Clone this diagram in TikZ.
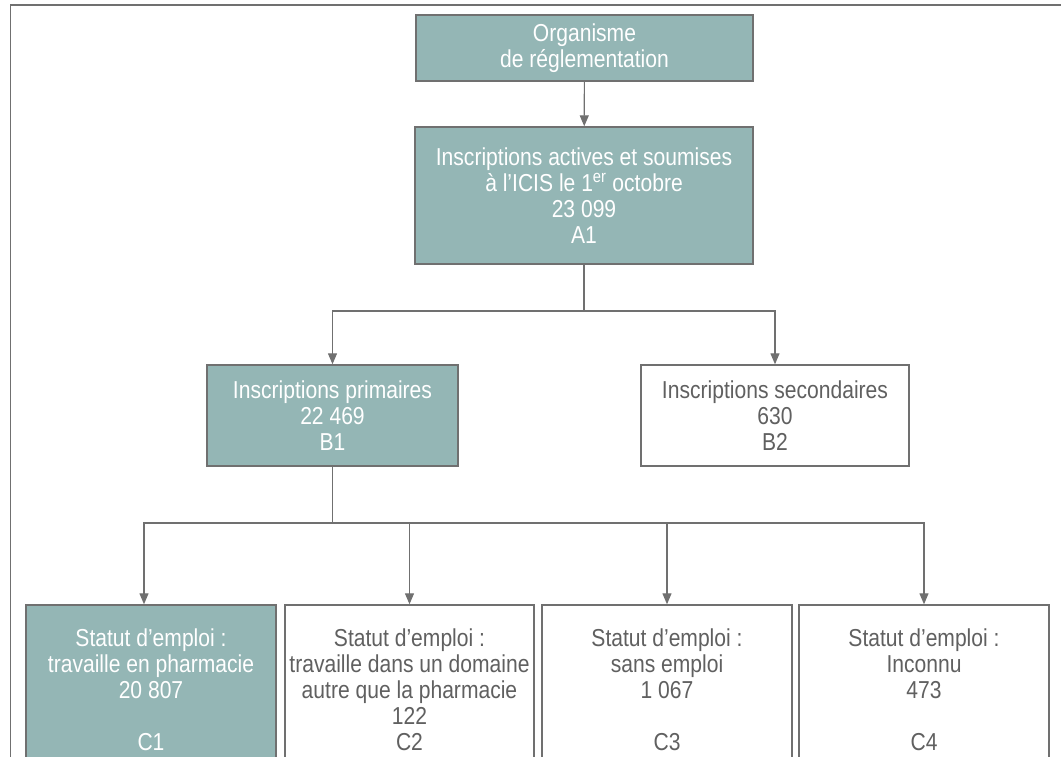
\documentclass[tikz,border=0pt]{standalone}
\usepackage{fontspec}
\setmainfont{Liberation Sans}[FakeStretch=0.86]
\usepackage{xcolor}
\usetikzlibrary{arrows.meta, positioning, calc}
\definecolor{sarcelle}{RGB}{148, 182, 181}
\definecolor{trait}{RGB}{112, 112, 112}
\definecolor{texte}{RGB}{96, 96, 96}

\begin{document}
\begin{tikzpicture}[
    x=1pt, y=-1pt,
    font=\fontsize{24.5}{26}\selectfont,
    boite/.style={draw=trait, line width=1.4pt, inner sep=0pt, align=center},
    pleine/.style={boite, fill=sarcelle, text=white},
    vide/.style={boite, fill=white, text=texte},
    fleche/.style={-{Triangle[length=11pt, width=9pt]}, line width=1.2pt, draw=trait}
  ]
    \useasboundingbox (0,0) rectangle (1061,757);
    \draw[trait, line width=1.4pt] (10.5,757) |- (1061,5);
    \node[pleine, minimum width=337pt, minimum height=66pt] (org) at (584.5,48)
      {Organisme\\de réglementation};
    \node[pleine, minimum width=338pt, minimum height=137pt] (a1) at (584,195.5)
      {Inscriptions actives et soumises\\à l’ICIS le 1\textsuperscript{er} octobre\\23 099\\A1};
    \node[pleine, minimum width=251pt, minimum height=101pt] (b1) at (332.5,415.5)
      {Inscriptions primaires\\22 469\\B1};
    \node[vide, minimum width=268pt, minimum height=101pt] (b2) at (775,415.5)
      {Inscriptions secondaires\\630\\B2};
    % les boites C depassent le bas de la page
    \node[pleine, minimum width=250pt, minimum height=170pt] (c1) at (151,690)
      {Statut d’emploi :\\travaille en pharmacie\\20 807\\[26pt]C1};
    \node[vide, minimum width=249pt, minimum height=170pt] (c2) at (409.5,690)
      {Statut d’emploi :\\travaille dans un domaine\\autre que la pharmacie\\122\\C2};
    \node[vide, minimum width=250pt, minimum height=170pt] (c3) at (667,690)
      {Statut d’emploi :\\sans emploi\\1 067\\[26pt]C3};
    \node[vide, minimum width=250pt, minimum height=170pt] (c4) at (924,690)
      {Statut d’emploi :\\Inconnu\\473\\[26pt]C4};
    \coordinate (splitA) at (584,311);
    \coordinate (splitB) at (332.5,523);
    \draw[fleche] (org) -- (a1);
    \draw[trait, line width=1.2pt] (a1) -- (splitA);
    \draw[fleche] (splitA) -| (b1.north);
    \draw[fleche] (splitA) -| (b2.north);
    \draw[trait, line width=1.2pt] (b1) -- (splitB);
    \draw[fleche] (splitB) -| ([xshift=-7pt]c1.north);
    \draw[fleche] (splitB) -| (c2.north);
    \draw[fleche] (splitB) -| (c3.north);
    \draw[fleche] (splitB) -| (c4.north);
  \end{tikzpicture}
\end{document}
